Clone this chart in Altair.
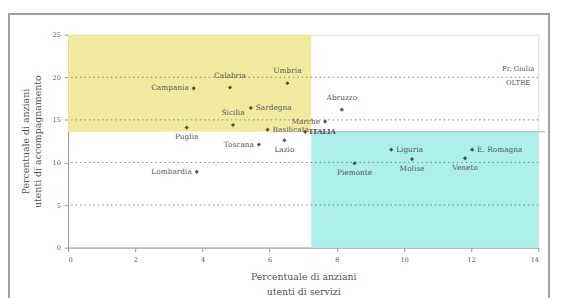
import altair as alt
import pandas as pd

# ---- data ----
regions = ["Campania", "Calabria", "Umbria", "Sardegna", "Sicilia", "Puglia",
           "Basilicata", "Toscana", "Lazio", "Lombardia", "Abruzzo", "Marche",
           "ITALIA", "Liguria", "E. Romagna", "Veneto", "Molise", "Piemonte"]
servizi = [3.74, 4.82, 6.53, 5.44, 4.91, 3.53,
           5.94, 5.68, 6.44, 3.83, 8.15, 7.65,
           7.06, 9.62, 12.03, 11.82, 10.24, 8.53]
accomp = [18.7, 18.8, 19.3, 16.4, 14.4, 14.1,
          13.85, 12.1, 12.6, 8.9, 16.2, 14.8,
          13.6, 11.5, 11.5, 10.5, 10.4, 9.9]
placement = ["left", "above", "above", "right", "above", "below",
             "right", "left", "below", "left", "above", "left",
             "total", "right", "right", "below", "below", "below"]

ital_x = 7.24
ital_y = 13.6
grid_vals = [5, 10, 15, 20]
x_ticks = [0, 2, 4, 6, 8, 10, 12, 14]
y_ticks = [0, 5, 10, 15, 20, 25]
note_text = ["Fr. Giulia", "OLTRE"]
note_x = [13.4, 13.4]
note_y = [21.0, 19.3]

df = pd.DataFrame({"region": regions, "x": servizi, "y": accomp, "pos": placement})
quad = pd.DataFrame({"x": [0, ital_x], "x2": [ital_x, 14], "y": [ital_y, 0],
                     "y2": [25, ital_y], "c": ["#f2eb9f", "#acefeb"]})
grid = pd.DataFrame({"y": grid_vals})
notes = pd.DataFrame({"t": note_text, "x": note_x, "y": note_y})
split = pd.DataFrame({"x": [ital_x], "x2": [14.2], "y": [ital_y]})

FONT = "DejaVu Serif"
XS = alt.Scale(domain=[0, 14], nice=False, zero=False)
YS = alt.Scale(domain=[0, 25], nice=False)

base = alt.Chart(df)

rects = alt.Chart(quad).mark_rect().encode(
    x=alt.X("x:Q", scale=XS, axis=alt.Axis(
        values=x_ticks, title=["Percentuale di anziani", "utenti di servizi"],
        grid=False, tickSize=4, tickColor="#999", domainColor="#999",
        labelFont=FONT, labelFontSize=6.5, labelColor="#555", labelPadding=5,
        titleFont=FONT, titleFontSize=9.5, titleFontWeight="normal",
        titleColor="#555", titlePadding=9, titleLineHeight=15)),
    x2="x2:Q",
    y=alt.Y("y:Q", scale=YS, axis=alt.Axis(
        values=y_ticks, title=["Percentuale di anziani", "utenti di accompagnamento"],
        grid=False, tickSize=4, tickColor="#999", domainColor="#999",
        labelFont=FONT, labelFontSize=6.5, labelColor="#555", labelPadding=4,
        titleFont=FONT, titleFontSize=9.5, titleFontWeight="normal",
        titleColor="#555", titlePadding=10, titleLineHeight=12)),
    y2="y2:Q",
    color=alt.Color("c:N", scale=None),
)

gridlines = alt.Chart(grid).mark_rule(color="#888", strokeDash=[1.5, 3], strokeWidth=1).encode(
    y=alt.Y("y:Q", scale=YS)
)

split_line = alt.Chart(split).mark_rule(color="#aaa", strokeWidth=1).encode(
    x=alt.X("x:Q", scale=XS), x2="x2:Q", y=alt.Y("y:Q", scale=YS)
)

frame = alt.Chart(grid).mark_rect(fill=None, stroke="#a0a0a0", strokeWidth=1.5).encode(
    x=alt.value(-60), x2=alt.value(488), y=alt.value(-21), y2=alt.value(300)
)

points = base.mark_point(shape="diamond", filled=True, color="#111", size=18).encode(
    x=alt.X("x:Q", scale=XS), y=alt.Y("y:Q", scale=YS)
)

def lab(pos, **kw):
    return base.transform_filter(alt.datum.pos == pos).mark_text(
        font=FONT, color="#555", baseline="middle", **kw
    ).encode(x=alt.X("x:Q", scale=XS), y=alt.Y("y:Q", scale=YS), text="region:N")

labels = alt.layer(
    lab("left", align="right", dx=-5, fontSize=7.5),
    lab("right", align="left", dx=5, fontSize=7.5),
    lab("above", align="center", dy=-12, fontSize=7.5),
    lab("below", align="center", dy=10, fontSize=7.5),
    lab("total", align="left", dx=4, fontSize=7, fontWeight="bold"),
)

note = alt.Chart(notes).mark_text(font=FONT, fontSize=7, color="#555").encode(
    x=alt.X("x:Q", scale=XS), y=alt.Y("y:Q", scale=YS), text="t:N"
)

chart = alt.layer(frame, rects, gridlines, split_line, points, labels, note).properties(
    width=477, height=216,
    autosize=alt.AutoSizeParams(type="none"),
    padding={"left": 61, "top": 25, "right": 21, "bottom": 49},
).configure_view(stroke="#999", strokeWidth=1).configure(background="white")

chart.save("out.html", embed_options={"renderer": "svg", "actions": False})
